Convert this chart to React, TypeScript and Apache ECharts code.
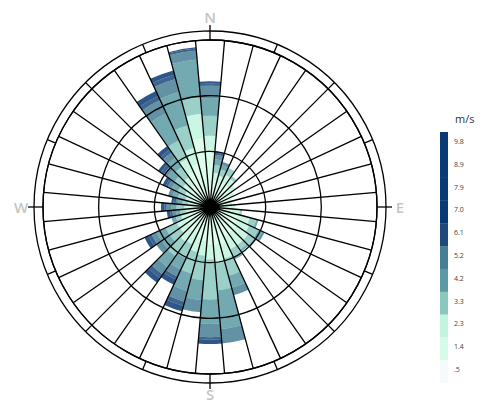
import React, { useEffect, useRef } from 'react';
import * as echarts from 'echarts';

const directions = ['0','10','20','30','40','50','60','70','80','90','100','110','120','130','140','150','160','170','180','190','200','210','220','230','240','250','260','270','280','290','300','310','320','330','340','350'];

const speedLabels = ['.5','1.4','2.3','3.3','4.2','5.2','6.1','7.0','7.9','8.9','9.8'];
const speedColors = ['#f7fafa','#d6fce9','#c3f4df','#8ac8bf','#5b9aa3','#467f93','#1d4a7a','#083a74','#083a74','#083a74','#083a74'];

// frequency (%) per direction, per speed bin (stacked from calm outward)
const s05 = [0.4,0.4,0.4,0.4,0.4,0.4,0.4,0.4,0.4,0.4,0.4,0.4,0.4,0.4,0.4,0.4,0.4,0.4,0.4,0.4,0.4,0.4,0.4,0.4,0.4,0.4,0.4,0.4,0.4,0.4,0.4,0.4,0.4,0.4,0.4,0.4];
const s14 = [4.5,2.0,1.8,2.0,2.0,1.8,1.6,1.4,1.4,1.4,1.6,2.2,2.3,2.5,2.5,2.5,3.1,3.0,3.0,2.7,2.5,2.2,2.3,2.0,2.0,1.6,1.3,1.3,1.1,1.3,1.4,1.8,2.0,3.1,3.6,5.8];
const s23 = [1.5,0.7,0.7,0.8,0.7,0.6,0.4,0.2,0.2,0.5,0.7,1.1,1.2,1.3,1.3,1.3,1.3,1.6,1.3,1.3,1.3,1.1,1.1,0.9,0.9,0.7,0.5,0.6,0.5,0.6,0.7,0.8,0.9,1.3,1.5,2.2];
const s33 = [1.8,0.7,0.6,0.7,0.3,0,0,0,0,0,0.2,0.6,0.9,0.7,0.5,0.7,1.6,2.5,3.6,2.2,2.0,1.4,1.6,1.1,1.1,0.5,0.5,0.7,0.5,0.7,0.7,0.9,1.1,1.8,2.1,1.5];
const s42 = [1.6,0.5,0.4,0,0,0,0,0,0,0,0,0.2,0.4,0.2,0.2,0.3,1.1,3.5,2.2,1.8,1.6,1.1,1.2,0.9,0.9,0.4,0.4,0.5,0.4,0.5,0.6,0.8,1.0,2.7,3.1,3.4];
const s52 = [1.1,0.4,0.3,0,0,0,0,0,0,0,0,0,0.2,0,0,0,0.7,1.3,1.2,1.1,1.0,0.7,0.8,0.6,0.5,0,0.3,0.4,0.2,0.4,0.4,0.4,0.6,1.3,1.2,0.8];
const s61 = [0.2,0.2,0,0,0,0,0,0,0,0,0,0,0,0,0,0,0,0,0.2,0,0.4,0.3,0.4,0,0.3,0,0.2,0.2,0.2,0,0.2,0.3,0.3,0.4,0.4,0.2];
const s70 = [0.2,0.1,0,0,0,0,0,0,0,0,0,0,0,0,0,0,0,0,0.4,0,0.5,0.5,0.5,0,0.4,0,0.3,0.3,0.2,0,0.3,0.3,0.4,0.5,0.4,0.1];

const binData = [s05, s14, s23, s33, s42, s52, s61, s70];

const compass = [
  { t: 'N', a: 0, r: 190 },
  { t: 'E', a: 90, r: 190 },
  { t: 'S', a: 180, r: 187 },
  { t: 'W', a: 270, r: 189 },
];

export default function App() {
  const ref = useRef<HTMLDivElement>(null);
  useEffect(() => {
    if (!ref.current) return;
    const chart = echarts.init(ref.current, null, { renderer: 'svg' });
    const cx = 210, cy = 207, R = 167, Ro = 176;
    const lw = 1.3;
    const graphic: any[] = [];
    graphic.push({ type: 'circle', shape: { cx, cy, r: Ro }, style: { fill: 'none', stroke: '#000', lineWidth: lw }, z: 10 });
    for (let k = 0; k < 16; k++) {
      const a = (k * 22.5) * Math.PI / 180;
      const card = k % 4 === 0;
      const r2 = card ? 182 : Ro;
      graphic.push({
        type: 'line',
        shape: { x1: cx + R * Math.sin(a), y1: cy - R * Math.cos(a), x2: cx + r2 * Math.sin(a), y2: cy - r2 * Math.cos(a) },
        style: { stroke: '#000', lineWidth: lw }, z: 10,
      });
    }
    compass.forEach((c) => {
      const a = c.a * Math.PI / 180;
      graphic.push({
        type: 'text',
        x: cx + c.r * Math.sin(a), y: cy - c.r * Math.cos(a),
        style: { text: c.t, fill: '#c4c4c4', font: '600 15px "Open Sans"', align: 'center', verticalAlign: 'middle' },
        z: 10,
      });
    });
    // legend
    const lx = 440, ltop = 132, lbot = 383;
    const bh = (lbot - ltop) / speedLabels.length;
    speedLabels.forEach((lab, i) => {
      const idx = speedLabels.length - 1 - i;
      graphic.push({ type: 'rect', shape: { x: lx, y: ltop + i * bh, width: 8, height: bh + 0.3 }, style: { fill: speedColors[idx] }, z: 10 });
      graphic.push({ type: 'text', x: 454, y: ltop + i * bh + bh / 2 - 2, style: { text: speedLabels[idx], fill: '#444', font: '7px "Open Sans"', verticalAlign: 'middle' }, z: 10 });
    });
    graphic.push({ type: 'text', x: 455, y: 118, style: { text: 'm/s', fill: '#333', font: '11px "Open Sans"', verticalAlign: 'middle' }, z: 10 });

    chart.setOption({
      animation: false,
      polar: { center: [cx, cy], radius: [0, R] },
      angleAxis: {
        type: 'category', data: directions, startAngle: 95, clockwise: true, boundaryGap: true,
        axisLine: { show: true, lineStyle: { color: '#000', width: lw } },
        axisTick: { show: false, interval: 0 }, axisLabel: { show: false, interval: 0 },
        splitLine: { show: true, interval: 0, lineStyle: { color: '#000', width: lw } },
        z: 10,
      },
      radiusAxis: {
        type: 'value', min: 0, max: 15, interval: 5,
        axisLine: { show: false }, axisTick: { show: false }, axisLabel: { show: false },
        splitLine: { show: true, lineStyle: { color: '#000', width: lw } },
        z: 10,
      },
      series: binData.map((d, i) => ({
        type: 'bar', coordinateSystem: 'polar', stack: 'speed', name: speedLabels[i],
        data: d, barCategoryGap: '0%',
        itemStyle: { color: speedColors[i], opacity: 0.85 },
        z: 1,
      })),
      graphic,
    });
    return () => chart.dispose();
  }, []);
  return <div ref={ref} style={{ position: 'fixed', left: 0, top: 0, width: 492, height: 403, background: '#fff' }} />;
}
